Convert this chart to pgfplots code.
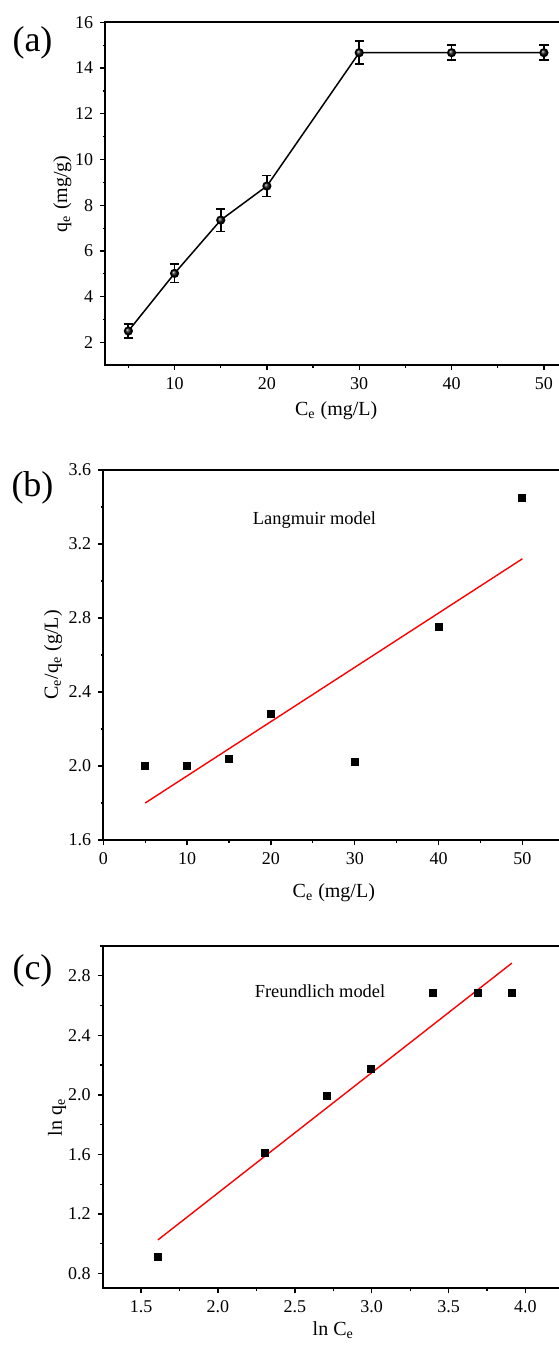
\documentclass[border=0pt]{standalone}
\usepackage{fontspec}
\setmainfont{Liberation Serif}
\usepackage{pgfplots}
\pgfplotsset{compat=1.18}
\pgfplotsset{
  myaxis/.style={
    scale only axis,
    anchor=north west,
    tick align=outside,
    xtick pos=bottom, ytick pos=left,
    axis line style={line width=1pt},
    major tick length=2.5pt,
    minor tick length=1.3pt,
    major tick style={line width=0.7pt, black},
    minor tick style={line width=0.6pt, black},
    tick label style={font=\fontsize{9}{10}\selectfont},
    label style={font=\fontsize{10}{12}\selectfont},
    /pgf/number format/assume math mode=true,
    every axis y label/.style={rotate=90, anchor=center},
    every axis x label/.style={anchor=center},
  }
}
\begin{document}
\begin{tikzpicture}
\useasboundingbox (0,0) rectangle (279pt,-674.5pt);

% panel labels
\node[font=\fontsize{18}{20}\selectfont, anchor=center, inner sep=0pt] at (16.25pt,-21.25pt) {(a)};
\node[font=\fontsize{18}{20}\selectfont, anchor=center, inner sep=0pt] at (16.25pt,-244pt) {(b)};
\node[font=\fontsize{18}{20}\selectfont, anchor=center, inner sep=0pt] at (16.25pt,-485.25pt) {(c)};

% (a)
\begin{axis}[myaxis,
  name=pa,
  at={(52.65pt,-11.15pt)},
  width=230.85pt, height=171.5pt,
  xmin=2.5, xmax=52.5, ymin=1, ymax=16,
  xtick={10,20,30,40,50}, minor xtick={5,15,25,35,45},
  ytick={2,4,6,8,10,12,14,16}, minor ytick={3,5,7,9,11,13,15},
  xlabel={C\textsubscript{e} (mg/L)},
  ylabel={q\textsubscript{e} (mg/g)},
  xlabel style={at={(axis description cs:0.5,-0.131)}},
  ylabel style={at={(axis description cs:-0.093,0.5)}},
]
\addplot[black, line width=0.75pt, mark=ball, mark size=1.9pt,
  mark options={ball color=black!90},
  error bars/.cd, y dir=both, y explicit,
  error bar style={line width=0.9pt, black},
  error mark options={rotate=90, mark size=2.3pt, line width=0.9pt, black}]
  table[x=x, y=y, y error=e] {
x y e
5 2.50 0.30
10 5.02 0.40
15 7.35 0.50
20 8.84 0.46
30 14.67 0.50
40 14.67 0.32
50 14.67 0.32
};
\end{axis}

% (b)
\begin{axis}[myaxis,
  name=pb,
  at={(51.65pt,-235pt)},
  width=230.5pt, height=185pt,
  xmin=0, xmax=55, ymin=1.6, ymax=3.6,
  xtick={0,10,20,30,40,50}, minor xtick={5,15,25,35,45,55},
  ytick={1.6,2.0,2.4,2.8,3.2,3.6}, minor ytick={1.8,2.2,2.6,3.0,3.4},
  yticklabel style={/pgf/number format/.cd, fixed, fixed zerofill, precision=1},
  xlabel={C\textsubscript{e} (mg/L)},
  ylabel={C\textsubscript{e}/q\textsubscript{e} (g/L)},
  xlabel style={at={(axis description cs:0.5,-0.143)}},
  ylabel style={at={(axis description cs:-0.109,0.5)}},
]
\addplot[only marks, mark=square*, mark size=1.75pt, black] coordinates {
(5,2.00) (10,2.00) (15,2.04) (20,2.28) (30,2.02) (40,2.75) (50,3.45)
};
\addplot[red, line width=0.7pt] coordinates {(5,1.80) (50,3.12)};
\node[font=\fontsize{9.2}{11}\selectfont] at (axis cs:25.2,3.33) {Langmuir model};
\end{axis}

% (c)
\begin{axis}[myaxis,
  name=pc,
  at={(51.35pt,-473pt)},
  width=230.55pt, height=171.15pt,
  xmin=1.25, xmax=4.25, ymin=0.7, ymax=3.0,
  xtick={1.5,2.0,2.5,3.0,3.5,4.0}, minor xtick={1.75,2.25,2.75,3.25,3.75,4.25},
  ytick={0.8,1.2,1.6,2.0,2.4,2.8}, minor ytick={1.0,1.4,1.8,2.2,2.6,3.0},
  xticklabel style={/pgf/number format/.cd, fixed, fixed zerofill, precision=1},
  yticklabel style={/pgf/number format/.cd, fixed, fixed zerofill, precision=1},
  xlabel={ln C\textsubscript{e}},
  ylabel={ln q\textsubscript{e}},
  xlabel style={at={(axis description cs:0.5,-0.123)}},
  ylabel style={at={(axis description cs:-0.099,0.5)}},
]
\addplot[only marks, mark=square*, mark size=1.75pt, black] coordinates {
(1.609,0.912) (2.303,1.608) (2.708,1.995) (2.996,2.175) (3.401,2.683) (3.689,2.683) (3.912,2.683)
};
\addplot[red, line width=0.7pt] coordinates {(1.609,1.025) (3.912,2.885)};
\node[font=\fontsize{9.2}{11}\selectfont] at (axis cs:2.664,2.694) {Freundlich model};
\end{axis}

\draw[line width=1pt, black] (pa.north west) -- (pa.north east);
\draw[line width=1pt, black] (pb.north west) -- (pb.north east);
\draw[line width=1pt, black] (pc.north west) -- (pc.north east);
\end{tikzpicture}
\end{document}
